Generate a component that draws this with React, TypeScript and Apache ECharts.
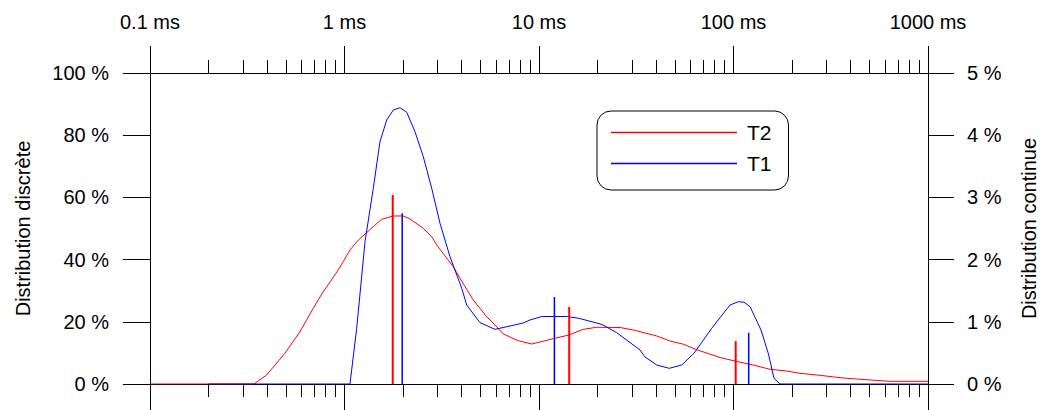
import React, { useEffect, useRef } from "react";
import * as echarts from "echarts";

// Time in ms (log scale), values in %
const decadeTicksMs = [0.1, 1, 10, 100, 1000];
const decadeLabels = ["0.1 ms", "1 ms", "10 ms", "100 ms", "1000 ms"];
const minorTicksMs = [
  0.2, 0.3, 0.4, 0.5, 0.6, 0.7, 0.8, 0.9,
  2, 3, 4, 5, 6, 7, 8, 9,
  20, 30, 40, 50, 60, 70, 80, 90,
  200, 300, 400, 500, 600, 700, 800, 900,
];
const leftTicks = [0, 20, 40, 60, 80, 100];
const rightTicks = [0, 1, 2, 3, 4, 5];

// Continuous distribution (right axis, %)
const t2Continuous: [number, number][] = [
  [0.1, 0], [0.342, 0], [0.398, 0.145], [0.494, 0.494], [0.59, 0.841],
  [0.691, 1.217], [0.764, 1.447], [0.929, 1.833], [1.067, 2.154], [1.178, 2.315],
  [1.406, 2.529], [1.553, 2.648], [1.782, 2.701], [2.006, 2.701], [2.172, 2.653],
  [2.542, 2.503], [2.808, 2.368], [2.979, 2.235], [3.626, 1.886], [4.165, 1.564],
  [4.595, 1.35], [5.384, 1.082], [5.939, 0.949], [6.553, 0.804], [7.827, 0.696],
  [9.173, 0.643], [10.12, 0.675], [12.09, 0.735], [14.26, 0.788], [16.89, 0.879],
  [19.81, 0.912], [26.1, 0.908], [30.53, 0.868], [40.29, 0.772], [47.16, 0.691],
  [55.19, 0.64], [64.68, 0.551], [85.23, 0.426], [103.9, 0.362], [126.4, 0.305],
  [154.1, 0.236], [187.7, 0.209], [219.8, 0.172], [278.4, 0.14], [352.8, 0.101],
  [447.2, 0.076], [637.8, 0.043], [1000, 0.043],
];
const t1Continuous: [number, number][] = [
  [0.2, 0], [1.067, 0], [1.155, 0.895], [1.275, 2.288], [1.406, 3.146],
  [1.522, 3.895], [1.648, 4.244], [1.782, 4.405], [1.929, 4.442], [2.088, 4.368],
  [2.304, 4.056], [2.542, 3.654], [2.808, 3.146], [3.097, 2.584], [3.486, 2.047],
  [4.006, 1.539], [4.25, 1.27], [4.974, 0.986], [5.939, 0.879], [7.094, 0.932],
  [8.305, 0.981], [8.989, 1.029], [10.33, 1.085], [13.88, 1.085], [16.06, 1.056],
  [21.08, 0.957], [25.09, 0.825], [33.06, 0.547], [35.08, 0.434], [40.29, 0.305],
  [46.77, 0.252], [54.16, 0.305], [62.64, 0.494], [77.25, 0.895], [95.94, 1.27],
  [105.9, 1.323], [113.2, 1.315], [121.6, 1.243], [138.5, 0.868], [151.0, 0.49],
  [161.5, 0.092], [173.4, 0], [1000, 0],
];

// Discrete distribution (left axis, %)
const t2Discrete: [number, number][] = [[1.77, 60.8], [14.3, 24.8], [102.6, 13.8]];
const t1Discrete: [number, number][] = [[1.98, 54.9], [12.0, 28.0], [119.7, 16.5]];

const RED = "#ff0000";
const BLUE = "#0000ff";
const FONT = "'Liberation Sans', Arial, sans-serif";

const toLog = (pts: [number, number][]) => pts.map(([t, v]) => [Math.log10(t), v]);

function barSeries(name: string, pts: [number, number][], color: string, width: number) {
  return {
    name,
    type: "custom",
    xAxisIndex: 0,
    yAxisIndex: 0,
    data: toLog(pts),
    renderItem: (params: any, api: any) => {
      const x = api.value(0);
      const v = api.value(1);
      const p0 = api.coord([x, 0]);
      const p1 = api.coord([x, v]);
      return {
        type: "line",
        shape: { x1: p0[0], y1: p0[1], x2: p1[0], y2: p1[1] },
        style: { stroke: color, lineWidth: width },
      };
    },
    z: 3,
  };
}

export default function App() {
  const ref = useRef<HTMLDivElement>(null);
  useEffect(() => {
    document.body.style.margin = "0";
    const chart = echarts.init(ref.current!, undefined, { renderer: "svg" });
    const majorLog = decadeTicksMs.map((t) => Math.log10(t));
    const minorLog = minorTicksMs.map((t) => Math.log10(t));
    const baseX = { type: "value", min: -1, max: 3, splitLine: { show: false } };
    const lineCol = "#000";
    chart.setOption({
      animation: false,
      textStyle: { fontFamily: FONT },
      grid: {
        left: 150,
        right: 114,
        top: 73,
        bottom: 26,
        containLabel: false,
        outerBoundsMode: "none",
      },
      legend: {
        data: [
          { name: "T2", icon: "rect" },
          { name: "T1", icon: "rect" },
        ],
        orient: "vertical",
        left: 597,
        top: 111,
        itemWidth: 126,
        itemHeight: 1.5,
        itemGap: 10,
        padding: [11, 17, 16, 14],
        borderColor: "#000",
        borderWidth: 1,
        borderRadius: 14,
        textStyle: { fontSize: 21, color: "#000", fontFamily: FONT, padding: [0, 0, 0, 5] },
        selectedMode: false,
      },
      xAxis: [
        {
          ...baseX,
          position: "bottom",
          axisLine: { show: true, onZero: false, lineStyle: { color: lineCol } },
          axisTick: { show: true, customValues: majorLog, length: 27, lineStyle: { color: lineCol } },
          axisLabel: { show: false },
        },
        {
          ...baseX,
          position: "bottom",
          axisLine: { show: false, onZero: false },
          axisTick: { show: true, customValues: minorLog, length: 13, lineStyle: { color: lineCol } },
          axisLabel: { show: false },
        },
        {
          ...baseX,
          position: "top",
          axisLine: { show: true, onZero: false, lineStyle: { color: lineCol } },
          axisTick: { show: true, customValues: majorLog, length: 27, lineStyle: { color: lineCol } },
          axisLabel: {
            show: true,
            customValues: majorLog,
            margin: 41,
            fontSize: 20,
            color: "#000",
            fontFamily: FONT,
            formatter: (v: number) => decadeLabels[Math.round(v) + 1],
          },
        },
        {
          ...baseX,
          position: "top",
          axisLine: { show: false, onZero: false },
          axisTick: { show: true, customValues: minorLog, length: 13, lineStyle: { color: lineCol } },
          axisLabel: { show: false },
        },
      ],
      yAxis: [
        {
          type: "value",
          position: "left",
          min: 0,
          max: 100,
          interval: 20,
          splitLine: { show: false },
          axisLine: { show: true, onZero: false, lineStyle: { color: lineCol } },
          axisTick: { show: true, length: 27, customValues: leftTicks, lineStyle: { color: lineCol } },
          axisLabel: {
            margin: 41,
            fontSize: 20,
            color: "#000",
            fontFamily: FONT,
            formatter: (v: number) => `${v} %`,
          },
          name: "Distribution discrète",
          nameLocation: "middle",
          nameRotate: 90,
          nameGap: 117,
          nameTextStyle: { fontSize: 20, color: "#000", fontFamily: FONT },
        },
        {
          type: "value",
          position: "right",
          min: 0,
          max: 5,
          interval: 1,
          splitLine: { show: false },
          axisLine: { show: true, onZero: false, lineStyle: { color: lineCol } },
          axisTick: { show: true, length: 26, customValues: rightTicks, lineStyle: { color: lineCol } },
          axisLabel: {
            margin: 39,
            fontSize: 20,
            color: "#000",
            fontFamily: FONT,
            formatter: (v: number) => `${v} %`,
          },
          name: "Distribution continue",
          nameLocation: "middle",
          nameRotate: 90,
          nameGap: 91,
          nameTextStyle: { fontSize: 20, color: "#000", fontFamily: FONT },
        },
      ],
      series: [
        {
          name: "T2",
          type: "line",
          xAxisIndex: 0,
          yAxisIndex: 1,
          data: toLog(t2Continuous),
          symbol: "none",
          showSymbol: false,
          lineStyle: { color: RED, width: 1 },
          itemStyle: { color: RED },
          z: 2,
        },
        {
          name: "T1",
          type: "line",
          xAxisIndex: 0,
          yAxisIndex: 1,
          data: toLog(t1Continuous),
          symbol: "none",
          showSymbol: false,
          lineStyle: { color: BLUE, width: 1 },
          itemStyle: { color: BLUE },
          z: 2,
        },
        barSeries("T2 discrète", t2Discrete, RED, 2),
        barSeries("T1 discrète", t1Discrete, BLUE, 1.5),
      ],
    });
    return () => chart.dispose();
  }, []);
  return <div ref={ref} style={{ width: 1042, height: 410 }} />;
}
